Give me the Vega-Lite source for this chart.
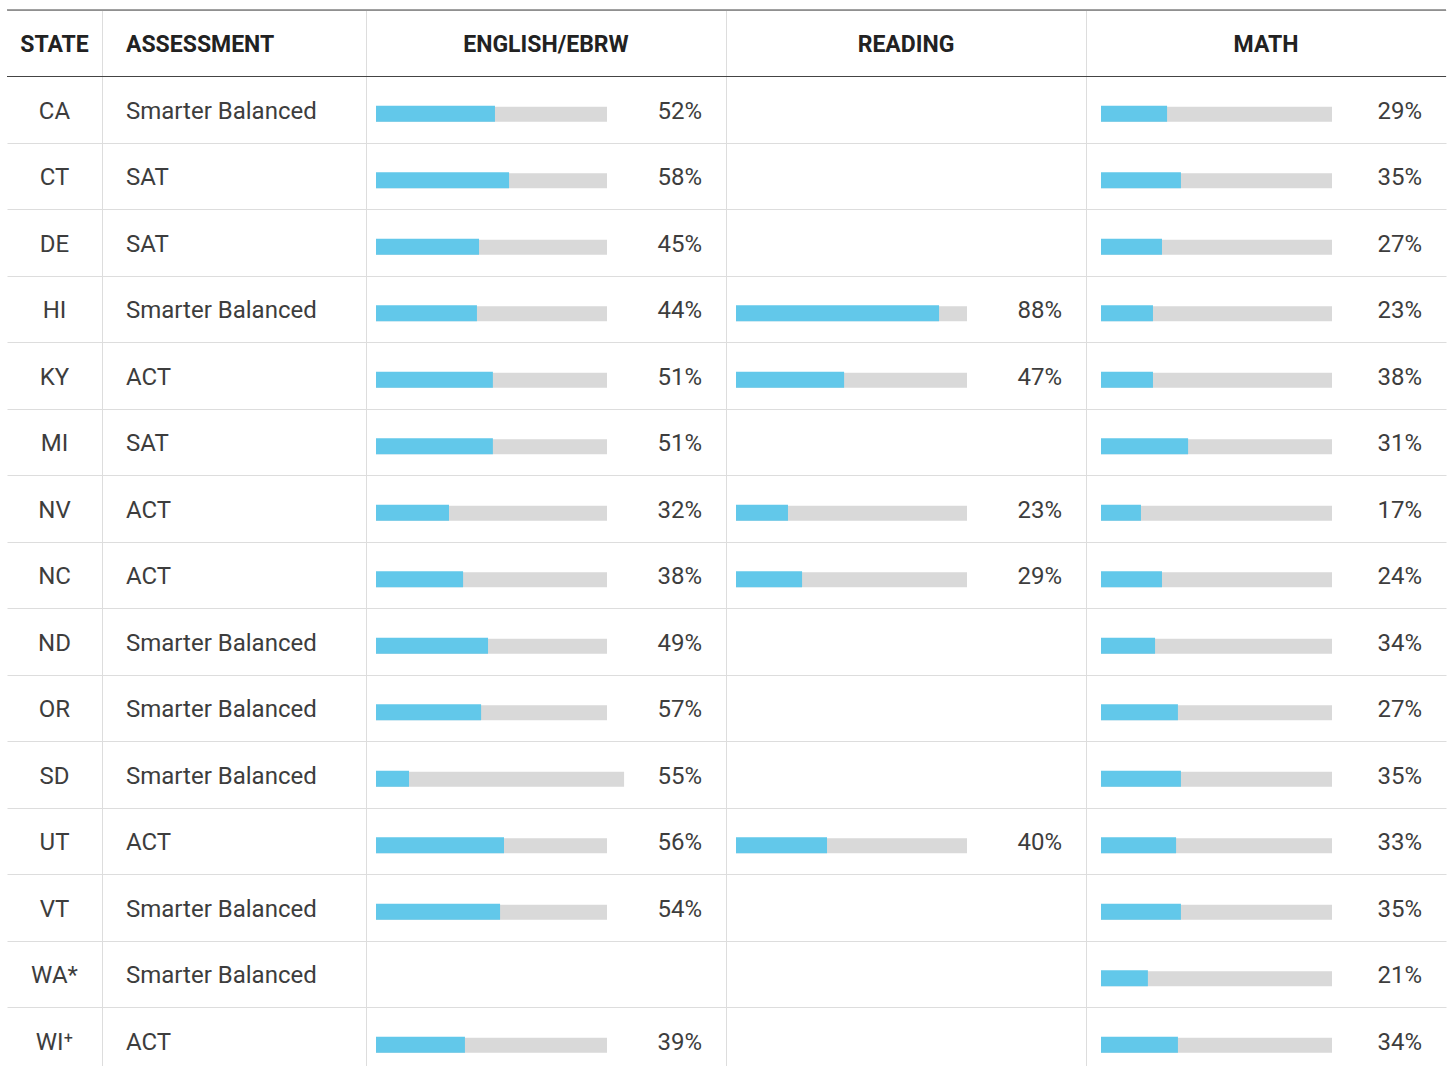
{
  "$schema": "https://vega.github.io/schema/vega-lite/v6.json",
  "background": "white",
  "padding": {"left": 6, "top": 9, "right": 5, "bottom": 0},
  "bounds": "flush",
  "spacing": 0,
  "config": {
    "view": {"stroke": null},
    "concat": {"spacing": 0},
    "font": "Roboto",
    "text": {"font": "Roboto"}
  },
  "datasets": {
    "headers": [
      {"row": "HEADER", "col": "state", "text": "STATE"},
      {"row": "HEADER", "col": "assessment", "text": "ASSESSMENT"},
      {"row": "HEADER", "col": "english", "text": "ENGLISH/EBRW"},
      {"row": "HEADER", "col": "reading", "text": "READING"},
      {"row": "HEADER", "col": "math", "text": "MATH"}
    ],
    "darklines": [{"row": "HEADER"}, {"row": "CA"}],
    "states": [
      {"row": "CA", "label": "CA", "assessment": "Smarter Balanced"},
      {"row": "CT", "label": "CT", "assessment": "SAT"},
      {"row": "DE", "label": "DE", "assessment": "SAT"},
      {"row": "HI", "label": "HI", "assessment": "Smarter Balanced"},
      {"row": "KY", "label": "KY", "assessment": "ACT"},
      {"row": "MI", "label": "MI", "assessment": "SAT"},
      {"row": "NV", "label": "NV", "assessment": "ACT"},
      {"row": "NC", "label": "NC", "assessment": "ACT"},
      {"row": "ND", "label": "ND", "assessment": "Smarter Balanced"},
      {"row": "OR", "label": "OR", "assessment": "Smarter Balanced"},
      {"row": "SD", "label": "SD", "assessment": "Smarter Balanced"},
      {"row": "UT", "label": "UT", "assessment": "ACT"},
      {"row": "VT", "label": "VT", "assessment": "Smarter Balanced"},
      {"row": "WA", "label": "WA*", "assessment": "Smarter Balanced"},
      {"row": "WI", "label": "WI⁺", "assessment": "ACT"}
    ],
    "cells": [
      {"row": "CA", "subject": "english", "bar": 51.5, "track": 100, "pct": 0.52},
      {"row": "CT", "subject": "english", "bar": 57.6, "track": 100, "pct": 0.58},
      {"row": "DE", "subject": "english", "bar": 44.6, "track": 100, "pct": 0.45},
      {"row": "HI", "subject": "english", "bar": 43.7, "track": 100, "pct": 0.44},
      {"row": "KY", "subject": "english", "bar": 50.6, "track": 100, "pct": 0.51},
      {"row": "MI", "subject": "english", "bar": 50.6, "track": 100, "pct": 0.51},
      {"row": "NV", "subject": "english", "bar": 31.6, "track": 100, "pct": 0.32},
      {"row": "NC", "subject": "english", "bar": 37.7, "track": 100, "pct": 0.38},
      {"row": "ND", "subject": "english", "bar": 48.5, "track": 100, "pct": 0.49},
      {"row": "OR", "subject": "english", "bar": 45.5, "track": 100, "pct": 0.57},
      {"row": "SD", "subject": "english", "bar": 14.3, "track": 107.4, "pct": 0.55},
      {"row": "UT", "subject": "english", "bar": 55.4, "track": 100, "pct": 0.56},
      {"row": "VT", "subject": "english", "bar": 53.7, "track": 100, "pct": 0.54},
      {"row": "WI", "subject": "english", "bar": 38.5, "track": 100, "pct": 0.39},
      {"row": "HI", "subject": "reading", "bar": 87.9, "track": 100, "pct": 0.88},
      {"row": "KY", "subject": "reading", "bar": 46.8, "track": 100, "pct": 0.47},
      {"row": "NV", "subject": "reading", "bar": 22.5, "track": 100, "pct": 0.23},
      {"row": "NC", "subject": "reading", "bar": 28.6, "track": 100, "pct": 0.29},
      {"row": "UT", "subject": "reading", "bar": 39.4, "track": 100, "pct": 0.40},
      {"row": "CA", "subject": "math", "bar": 28.6, "track": 100, "pct": 0.29},
      {"row": "CT", "subject": "math", "bar": 34.6, "track": 100, "pct": 0.35},
      {"row": "DE", "subject": "math", "bar": 26.4, "track": 100, "pct": 0.27},
      {"row": "HI", "subject": "math", "bar": 22.5, "track": 100, "pct": 0.23},
      {"row": "KY", "subject": "math", "bar": 22.5, "track": 100, "pct": 0.38},
      {"row": "MI", "subject": "math", "bar": 37.7, "track": 100, "pct": 0.31},
      {"row": "NV", "subject": "math", "bar": 17.3, "track": 100, "pct": 0.17},
      {"row": "NC", "subject": "math", "bar": 26.4, "track": 100, "pct": 0.24},
      {"row": "ND", "subject": "math", "bar": 23.4, "track": 100, "pct": 0.34},
      {"row": "OR", "subject": "math", "bar": 33.3, "track": 100, "pct": 0.27},
      {"row": "SD", "subject": "math", "bar": 34.6, "track": 100, "pct": 0.35},
      {"row": "UT", "subject": "math", "bar": 32.5, "track": 100, "pct": 0.33},
      {"row": "VT", "subject": "math", "bar": 34.6, "track": 100, "pct": 0.35},
      {"row": "WA", "subject": "math", "bar": 20.3, "track": 100, "pct": 0.21},
      {"row": "WI", "subject": "math", "bar": 33.3, "track": 100, "pct": 0.34}
    ]
  },
  "hconcat": [
    {
      "width": 95,
      "height": 1064,
      "encoding": {
        "y": {"field": "row", "type": "nominal", "sort": null,
          "scale": {"domain": ["HEADER","CA","CT","DE","HI","KY","MI","NV","NC","ND","OR","SD","UT","VT","WA","WI"], "paddingInner": 0, "paddingOuter": 0},
          "axis": {"bandPosition": 0, "grid": true, "gridColor": "#dddddd", "domain": false, "labels": false, "ticks": false, "title": null, "minExtent": 0, "maxExtent": 0}}
      },
      "layer": [
        {"data": {"name": "headers"}, "transform": [{"filter": "datum.col === 'state'"}],
          "mark": {"type": "text", "fontWeight": "bold", "fontSize": 23, "color": "#222222", "baseline": "middle", "dy": 1.5},
          "encoding": {"text": {"field": "text"}}},
        {"data": {"name": "states"},
          "mark": {"type": "text", "fontSize": 24, "color": "#3d3d3d", "baseline": "middle", "dy": 2},
          "encoding": {"text": {"field": "label"}}},
        {"data": {"name": "darklines"},
          "mark": {"type": "rule", "color": "#444444", "strokeWidth": 1.2},
          "encoding": {"y": {"field": "row", "type": "nominal", "bandPosition": 0, "sort": null,
            "scale": {"domain": ["HEADER","CA","CT","DE","HI","KY","MI","NV","NC","ND","OR","SD","UT","VT","WA","WI"], "paddingInner": 0, "paddingOuter": 0},
            "axis": {"bandPosition": 0, "grid": true, "gridColor": "#dddddd", "domain": false, "labels": false, "ticks": false, "title": null, "minExtent": 0, "maxExtent": 0}}}}
      ]
    },
    {
      "width": 264,
      "height": 1064,
      "encoding": {
        "y": {"field": "row", "type": "nominal", "sort": null,
          "scale": {"domain": ["HEADER","CA","CT","DE","HI","KY","MI","NV","NC","ND","OR","SD","UT","VT","WA","WI"], "paddingInner": 0, "paddingOuter": 0},
          "axis": {"bandPosition": 0, "grid": true, "gridColor": "#dddddd", "domain": true, "domainColor": "#dddddd", "labels": false, "ticks": false, "title": null, "minExtent": 0, "maxExtent": 0}}
      },
      "layer": [
        {"data": {"name": "headers"}, "transform": [{"filter": "datum.col === 'assessment'"}],
          "mark": {"type": "text", "fontWeight": "bold", "fontSize": 23, "color": "#222222", "align": "left", "baseline": "middle", "dy": 1.5},
          "encoding": {"text": {"field": "text"},
            "x": {"datum": 24, "type": "quantitative", "scale": {"domain": [0, 264], "nice": false}, "axis": null}}},
        {"data": {"name": "states"},
          "mark": {"type": "text", "fontSize": 24, "color": "#3d3d3d", "align": "left", "baseline": "middle", "dy": 2},
          "encoding": {"text": {"field": "assessment"},
            "x": {"datum": 24, "type": "quantitative", "scale": {"domain": [0, 264], "nice": false}, "axis": null}}},
        {"data": {"name": "darklines"},
          "mark": {"type": "rule", "color": "#444444", "strokeWidth": 1.2},
          "encoding": {"y": {"field": "row", "type": "nominal", "bandPosition": 0, "sort": null,
            "scale": {"domain": ["HEADER","CA","CT","DE","HI","KY","MI","NV","NC","ND","OR","SD","UT","VT","WA","WI"], "paddingInner": 0, "paddingOuter": 0},
            "axis": {"bandPosition": 0, "grid": true, "gridColor": "#dddddd", "domain": true, "domainColor": "#dddddd", "labels": false, "ticks": false, "title": null, "minExtent": 0, "maxExtent": 0}}}}
      ]
    },
    {
      "width": 360,
      "height": 1064,
      "encoding": {
        "y": {"field": "row", "type": "nominal", "sort": null,
          "scale": {"domain": ["HEADER","CA","CT","DE","HI","KY","MI","NV","NC","ND","OR","SD","UT","VT","WA","WI"], "paddingInner": 0, "paddingOuter": 0},
          "axis": {"bandPosition": 0, "grid": true, "gridColor": "#dddddd", "domain": true, "domainColor": "#dddddd", "labels": false, "ticks": false, "title": null, "minExtent": 0, "maxExtent": 0}}
      },
      "layer": [
        {"data": {"name": "headers"}, "transform": [{"filter": "datum.col === 'english'"}],
          "mark": {"type": "text", "fontWeight": "bold", "fontSize": 23, "color": "#222222", "baseline": "middle", "dy": 1.5},
          "encoding": {"text": {"field": "text"}}},
        {"data": {"name": "cells"}, "transform": [{"filter": "datum.subject === 'english'"}],
          "mark": {"type": "bar", "color": "#d9d9d9", "height": 15, "yOffset": 4.5},
          "encoding": {"x": {"field": "track", "type": "quantitative", "scale": {"domain": [-4.329, 151.515], "nice": false, "zero": false}, "axis": null}}},
        {"data": {"name": "cells"}, "transform": [{"filter": "datum.subject === 'english'"}],
          "mark": {"type": "bar", "color": "#62c8ea", "height": 16, "yOffset": 4},
          "encoding": {"x": {"field": "bar", "type": "quantitative", "scale": {"domain": [-4.329, 151.515], "nice": false, "zero": false}, "axis": null}}},
        {"data": {"name": "cells"}, "transform": [{"filter": "datum.subject === 'english'"}],
          "mark": {"type": "text", "fontSize": 24, "color": "#3d3d3d", "align": "right", "baseline": "middle", "dx": 95, "dy": 2},
          "encoding": {"text": {"field": "pct", "type": "quantitative", "format": ".0%"},
            "x": {"datum": 100, "type": "quantitative", "scale": {"domain": [-4.329, 151.515], "nice": false, "zero": false}, "axis": null}}},
        {"data": {"name": "darklines"},
          "mark": {"type": "rule", "color": "#444444", "strokeWidth": 1.2},
          "encoding": {"y": {"field": "row", "type": "nominal", "bandPosition": 0, "sort": null,
            "scale": {"domain": ["HEADER","CA","CT","DE","HI","KY","MI","NV","NC","ND","OR","SD","UT","VT","WA","WI"], "paddingInner": 0, "paddingOuter": 0},
            "axis": {"bandPosition": 0, "grid": true, "gridColor": "#dddddd", "domain": true, "domainColor": "#dddddd", "labels": false, "ticks": false, "title": null, "minExtent": 0, "maxExtent": 0}}}}
      ]
    },
    {
      "width": 360,
      "height": 1064,
      "encoding": {
        "y": {"field": "row", "type": "nominal", "sort": null,
          "scale": {"domain": ["HEADER","CA","CT","DE","HI","KY","MI","NV","NC","ND","OR","SD","UT","VT","WA","WI"], "paddingInner": 0, "paddingOuter": 0},
          "axis": {"bandPosition": 0, "grid": true, "gridColor": "#dddddd", "domain": true, "domainColor": "#dddddd", "labels": false, "ticks": false, "title": null, "minExtent": 0, "maxExtent": 0}}
      },
      "layer": [
        {"data": {"name": "headers"}, "transform": [{"filter": "datum.col === 'reading'"}],
          "mark": {"type": "text", "fontWeight": "bold", "fontSize": 23, "color": "#222222", "baseline": "middle", "dy": 1.5},
          "encoding": {"text": {"field": "text"}}},
        {"data": {"name": "cells"}, "transform": [{"filter": "datum.subject === 'reading'"}],
          "mark": {"type": "bar", "color": "#d9d9d9", "height": 15, "yOffset": 4.5},
          "encoding": {"x": {"field": "track", "type": "quantitative", "scale": {"domain": [-4.329, 151.515], "nice": false, "zero": false}, "axis": null}}},
        {"data": {"name": "cells"}, "transform": [{"filter": "datum.subject === 'reading'"}],
          "mark": {"type": "bar", "color": "#62c8ea", "height": 16, "yOffset": 4},
          "encoding": {"x": {"field": "bar", "type": "quantitative", "scale": {"domain": [-4.329, 151.515], "nice": false, "zero": false}, "axis": null}}},
        {"data": {"name": "cells"}, "transform": [{"filter": "datum.subject === 'reading'"}],
          "mark": {"type": "text", "fontSize": 24, "color": "#3d3d3d", "align": "right", "baseline": "middle", "dx": 95, "dy": 2},
          "encoding": {"text": {"field": "pct", "type": "quantitative", "format": ".0%"},
            "x": {"datum": 100, "type": "quantitative", "scale": {"domain": [-4.329, 151.515], "nice": false, "zero": false}, "axis": null}}},
        {"data": {"name": "darklines"},
          "mark": {"type": "rule", "color": "#444444", "strokeWidth": 1.2},
          "encoding": {"y": {"field": "row", "type": "nominal", "bandPosition": 0, "sort": null,
            "scale": {"domain": ["HEADER","CA","CT","DE","HI","KY","MI","NV","NC","ND","OR","SD","UT","VT","WA","WI"], "paddingInner": 0, "paddingOuter": 0},
            "axis": {"bandPosition": 0, "grid": true, "gridColor": "#dddddd", "domain": true, "domainColor": "#dddddd", "labels": false, "ticks": false, "title": null, "minExtent": 0, "maxExtent": 0}}}}
      ]
    },
    {
      "width": 360,
      "height": 1064,
      "encoding": {
        "y": {"field": "row", "type": "nominal", "sort": null,
          "scale": {"domain": ["HEADER","CA","CT","DE","HI","KY","MI","NV","NC","ND","OR","SD","UT","VT","WA","WI"], "paddingInner": 0, "paddingOuter": 0},
          "axis": {"bandPosition": 0, "grid": true, "gridColor": "#dddddd", "domain": true, "domainColor": "#dddddd", "labels": false, "ticks": false, "title": null, "minExtent": 0, "maxExtent": 0}}
      },
      "layer": [
        {"data": {"name": "headers"}, "transform": [{"filter": "datum.col === 'math'"}],
          "mark": {"type": "text", "fontWeight": "bold", "fontSize": 23, "color": "#222222", "baseline": "middle", "dy": 1.5},
          "encoding": {"text": {"field": "text"}}},
        {"data": {"name": "cells"}, "transform": [{"filter": "datum.subject === 'math'"}],
          "mark": {"type": "bar", "color": "#d9d9d9", "height": 15, "yOffset": 4.5},
          "encoding": {"x": {"field": "track", "type": "quantitative", "scale": {"domain": [-6.494, 149.35], "nice": false, "zero": false}, "axis": null}}},
        {"data": {"name": "cells"}, "transform": [{"filter": "datum.subject === 'math'"}],
          "mark": {"type": "bar", "color": "#62c8ea", "height": 16, "yOffset": 4},
          "encoding": {"x": {"field": "bar", "type": "quantitative", "scale": {"domain": [-6.494, 149.35], "nice": false, "zero": false}, "axis": null}}},
        {"data": {"name": "cells"}, "transform": [{"filter": "datum.subject === 'math'"}],
          "mark": {"type": "text", "fontSize": 24, "color": "#3d3d3d", "align": "right", "baseline": "middle", "dx": 90, "dy": 2},
          "encoding": {"text": {"field": "pct", "type": "quantitative", "format": ".0%"},
            "x": {"datum": 100, "type": "quantitative", "scale": {"domain": [-6.494, 149.35], "nice": false, "zero": false}, "axis": null}}},
        {"data": {"name": "darklines"},
          "mark": {"type": "rule", "color": "#444444", "strokeWidth": 1.2},
          "encoding": {"y": {"field": "row", "type": "nominal", "bandPosition": 0, "sort": null,
            "scale": {"domain": ["HEADER","CA","CT","DE","HI","KY","MI","NV","NC","ND","OR","SD","UT","VT","WA","WI"], "paddingInner": 0, "paddingOuter": 0},
            "axis": {"bandPosition": 0, "grid": true, "gridColor": "#dddddd", "domain": true, "domainColor": "#dddddd", "labels": false, "ticks": false, "title": null, "minExtent": 0, "maxExtent": 0}}}}
      ]
    }
  ]
}
